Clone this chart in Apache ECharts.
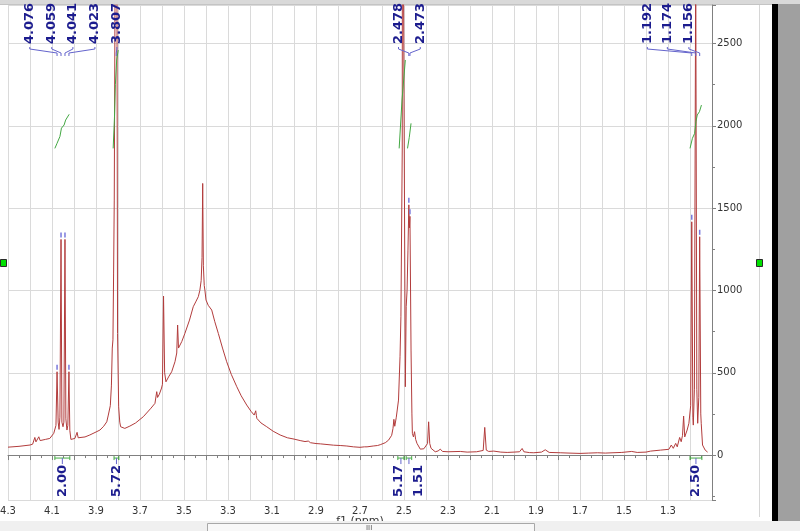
<!DOCTYPE html>
<html><head><meta charset="utf-8">
<script src="https://cdn.jsdelivr.net/npm/echarts@6/dist/echarts.min.js"></script>
<style>html,body{margin:0;padding:0;background:#fff}#c{width:800px;height:531px}</style>
</head><body><div id="c"></div>
<script>
// ---- spectrum (chemical shift in ppm, intensity) ----
const specPpm = [4.300,4.250,4.200,4.188,4.183,4.178,4.173,4.166,4.160,4.154,4.148,4.130,4.110,4.092,4.082,4.077,4.072,4.068,4.064,4.059,4.055,4.050,4.046,4.041,4.037,4.032,4.028,4.023,4.019,4.014,3.996,3.990,3.986,3.981,3.977,3.950,3.928,3.900,3.882,3.865,3.851,3.844,3.835,3.830,3.826,3.823,3.820,3.817,3.813,3.808,3.805,3.802,3.797,3.792,3.788,3.769,3.746,3.720,3.685,3.650,3.632,3.624,3.620,3.612,3.602,3.598,3.593,3.588,3.582,3.570,3.556,3.541,3.533,3.529,3.525,3.521,3.510,3.496,3.475,3.458,3.445,3.435,3.428,3.422,3.418,3.415,3.412,3.408,3.405,3.400,3.390,3.374,3.360,3.344,3.325,3.306,3.285,3.260,3.240,3.215,3.195,3.181,3.176,3.174,3.171,3.169,3.150,3.124,3.095,3.063,3.030,3.000,2.972,2.950,2.935,2.925,2.900,2.880,2.850,2.820,2.790,2.760,2.730,2.700,2.680,2.675,2.668,2.640,2.620,2.608,2.585,2.570,2.556,2.550,2.546,2.542,2.535,2.525,2.518,2.514,2.508,2.505,2.502,2.494,2.490,2.486,2.482,2.478,2.4755,2.473,2.468,2.464,2.462,2.457,2.452,2.447,2.441,2.426,2.410,2.403,2.393,2.388,2.383,2.377,2.358,2.345,2.335,2.325,2.300,2.244,2.213,2.170,2.140,2.133,2.126,2.115,2.092,2.060,2.031,2.000,1.975,1.963,1.955,1.930,1.910,1.875,1.858,1.849,1.840,1.790,1.750,1.700,1.660,1.620,1.585,1.550,1.510,1.465,1.440,1.400,1.379,1.334,1.296,1.285,1.276,1.265,1.258,1.247,1.240,1.234,1.229,1.224,1.222,1.213,1.205,1.197,1.192,1.187,1.185,1.180,1.174,1.169,1.165,1.160,1.156,1.151,1.149,1.143,1.138,1.131,1.123,1.120];
const specInt = [48,53,61,66,75,107,80,92,111,88,91,95,101,132,180,506,200,156,230,1310,200,172,200,1310,220,152,180,506,150,95,101,110,138,105,101,110,122,140,152,175,202,243,300,420,650,700,1100,1549,3000,7000,3000,739,293,200,172,162,176,195,233,285,314,385,350,370,407,430,966,500,445,475,506,567,620,790,650,638,690,739,820,901,935,962,1000,1060,1200,1650,1150,1030,1002,942,910,881,810,739,650,567,490,415,360,304,265,243,250,269,240,223,195,172,145,122,105,97,88,82,85,75,70,68,64,60,58,55,50,47,50,62,50,55,58,63,75,91,120,162,217,175,230,334,600,840,1853,8000,2800,415,901,1002,1245,1520,1380,1450,638,250,132,110,142,95,71,36,38,41,70,202,70,41,20,25,36,22,20,22,18,20,28,168,30,22,24,18,16,18,20,40,20,15,14,18,32,30,16,14,12,10,12,14,12,14,16,22,16,18,24,30,35,61,41,71,50,107,81,120,237,110,101,152,193,300,1417,230,182,400,3000,400,193,350,1326,250,193,61,71,30,24,18];

// ---- integral traces ----
const int1Ppm = [4.087,4.077,4.064,4.057,4.045,4.038,4.022];
const int1Val = [1863,1894,1935,1986,2005,2035,2070];
const int2Ppm = [3.822,3.816,3.812,3.806,3.799];
const int2Val = [1863,2050,2250,2400,2460];
const int3Ppm = [2.522,2.509,2.494];
const int3Val = [1863,2157,2400];
const int4Ppm = [2.484,2.476,2.468];
const int4Val = [1863,1930,2015];
const int5Ppm = [1.200,1.189,1.179,1.173,1.167,1.157,1.148];
const int5Val = [1863,1924,1954,2025,2066,2086,2126];

// ---- peak picking labels ----
const peakLabels = ['4.076','4.059','4.041','4.023','3.807','2.478','2.473','1.192','1.174','1.156'];
const peakPos    = [4.077,4.059,4.041,4.023,3.808,2.478,2.473,1.192,1.174,1.156];
const peakHeight = [506,1310,1310,506,-1,1520,1450,1417,-1,1326];
const peakLabelPos = [4.201,4.101,4.005,3.905,3.805,2.525,2.426,1.394,1.303,1.205];

// ---- integration labels ----
const intLabels = ['2.00','5.72','5.17','1.51','2.50'];
const intFrom = [4.087,3.818,2.528,2.490,1.200];
const intTo   = [4.019,3.796,2.500,2.465,1.146];
const intLabelPos = [4.051,3.805,2.526,2.434,1.174];

const chart = echarts.init(document.getElementById('c'), null, {renderer:'canvas'});
const zip = (a,b) => a.map((v,i)=>[v,b[i]]);
const NAVY = '#1c1c8e';
const intStyle = {color:'#43a843', width:1};

function integralSeries(p, v){
  return {type:'line', data: zip(p,v), showSymbol:false, symbol:'none', lineStyle:intStyle, silent:true, z:4, clip:false};
}

const option = {
  animation:false,
  backgroundColor:'#ffffff',
  grid:{left:8,right:88,top:5,bottom:31,show:false,containLabel:false,outerBoundsMode:'none'},
  xAxis:{
    type:'value', min:1.1, max:4.3, inverse:true, interval:0.1,
    axisLine:{show:true, lineStyle:{color:'#808080'}},
    axisTick:{show:true, length:5, lineStyle:{color:'#808080'}},
    minorTick:{show:true, splitNumber:2, length:3, lineStyle:{color:'#808080'}},
    axisLabel:{color:'#333', fontSize:10, fontFamily:'DejaVu Sans', margin:6,
      formatter: v => { const k = Math.round(v*10); return (k%2===1 && k!==11) ? (k/10).toFixed(1) : ''; }},
    splitLine:{show:true, lineStyle:{color:'#dadada', width:1}},
    minorSplitLine:{show:false},
    name:'f1 (ppm)', nameLocation:'middle', nameGap:16, nameMoveOverlap:false,
    nameTextStyle:{color:'#333', fontSize:11, fontFamily:'DejaVu Sans'}
  },
  yAxis:{
    type:'value', position:'right', min:-273, max:2734, splitNumber:5, minInterval:500, maxInterval:500,
    axisLine:{show:true, lineStyle:{color:'#808080'}},
    axisTick:{show:true, length:4, lineStyle:{color:'#808080'}},
    minorTick:{show:true, splitNumber:2, length:3, lineStyle:{color:'#808080'}},
    axisLabel:{color:'#333', fontSize:10, fontFamily:'DejaVu Sans', margin:5,
      formatter: v => (Math.abs(v % 500) < 1e-6 ? String(v) : '')},
    splitLine:{show:true, lineStyle:{color:'#dadada', width:1}}
  },
  graphic:[
    {type:'rect', z:-10, shape:{x:0,y:0,width:800,height:4}, style:{fill:'#d9d9d9'}},
    {type:'line', z:-10, shape:{x1:0,y1:4.5,x2:772,y2:4.5}, style:{stroke:'#c4c4c4', lineWidth:1}},
    {type:'rect', z:100, shape:{x:0,y:521,width:800,height:10}, style:{fill:'#f0f0f0'}},
    {type:'rect', z:101, shape:{x:207.5,y:523.5,width:327,height:9}, style:{fill:'#f8f8f8', stroke:'#a8a8a8', lineWidth:1}},
    {type:'text', z:102, x:366, y:525, style:{text:'III', fill:'#555', font:'7px "DejaVu Sans"'}},
    {type:'rect', z:-10, shape:{x:772,y:4,width:6,height:517}, style:{fill:'#000000'}},
    {type:'rect', z:-10, shape:{x:778,y:4,width:22,height:517}, style:{fill:'#a0a0a0'}},
    {type:'line', z:-10, shape:{x1:759.5,y1:5,x2:759.5,y2:517}, style:{stroke:'#d6d6d6', lineWidth:1}},
    {type:'rect', z:-8, shape:{x:756.5,y:259.5,width:6,height:7}, style:{fill:'#00e000', stroke:'#2a2a2a', lineWidth:1}},
    {type:'rect', z:-8, shape:{x:0.5,y:259.5,width:6,height:7}, style:{fill:'#00e000', stroke:'#2a2a2a', lineWidth:1}}
  ],
  series:[
    {type:'line', data: zip(specPpm, specInt), showSymbol:false, symbol:'none',
     lineStyle:{color:'#b23c3c', width:1}, clip:true, silent:true, z:3},
    integralSeries(int1Ppm, int1Val),
    integralSeries(int2Ppm, int2Val),
    integralSeries(int3Ppm, int3Val),
    integralSeries(int4Ppm, int4Val),
    integralSeries(int5Ppm, int5Val),
    {
      type:'custom', coordinateSystem:'cartesian2d', clip:false, silent:true, z:6,
      data: peakLabels.map((t,i)=>[peakPos[i], peakLabelPos[i], peakHeight[i], i]),
      encode:{x:[0,1], y:2},
      renderItem:(params, api) => {
        const i = api.value(3);
        const px = api.coord([api.value(0), 0])[0];
        const lx = api.coord([api.value(1), 0])[0];
        const by = params.coordSys.y + 39;
        const children = [
          {type:'text', x:lx, y:by, rotation:Math.PI/2,
           style:{text:peakLabels[i], fill:NAVY, font:'bold 13px "DejaVu Sans"', align:'left', verticalAlign:'middle', textAlign:'left', textVerticalAlign:'middle'}},
          {type:'polyline', shape:{points:[[lx,by+3],[lx,by+5],[px,by+9],[px,by+12]]},
           style:{stroke:'#6464cc', fill:null, lineWidth:1}}
        ];
        const h = api.value(2);
        if (h > 0) {
          const p = api.coord([api.value(0), h]);
          children.push({type:'line', shape:{x1:p[0], y1:p[1]-7, x2:p[0], y2:p[1]-2},
            style:{stroke:'#7878dc', lineWidth:1.5}});
        }
        return {type:'group', children};
      }
    },
    {
      type:'custom', coordinateSystem:'cartesian2d', clip:false, silent:true, z:6,
      data: intLabels.map((t,i)=>[intFrom[i], intTo[i], intLabelPos[i], i]),
      encode:{x:[0,1,2]},
      renderItem:(params, api) => {
        const i = api.value(3);
        const x1 = api.coord([api.value(0), 0])[0];
        const x2 = api.coord([api.value(1), 0])[0];
        const lx = api.coord([api.value(2), 0])[0];
        const y0 = api.coord([api.value(0), 0])[1];
        const by = y0 + 3;
        const cx = (x1 + x2) / 2;
        const st = {stroke:'#44aa44', fill:null, lineWidth:1};
        return {type:'group', children:[
          {type:'line', shape:{x1:x1, y1:by, x2:x2, y2:by}, style:st},
          {type:'line', shape:{x1:x1, y1:by-2, x2:x1, y2:by+2}, style:st},
          {type:'line', shape:{x1:x2, y1:by-2, x2:x2, y2:by+2}, style:st},
          {type:'line', shape:{x1:cx, y1:by, x2:cx, y2:by+6}, style:{stroke:'#6464cc', lineWidth:1}},
          {type:'text', x:lx, y:by+39, rotation:Math.PI/2,
           style:{text:intLabels[i], fill:NAVY, font:'bold 13px "DejaVu Sans"', align:'left', verticalAlign:'middle', textAlign:'left', textVerticalAlign:'middle'}}
        ]};
      }
    }
  ]
};
chart.setOption(option);
</script></body></html>
